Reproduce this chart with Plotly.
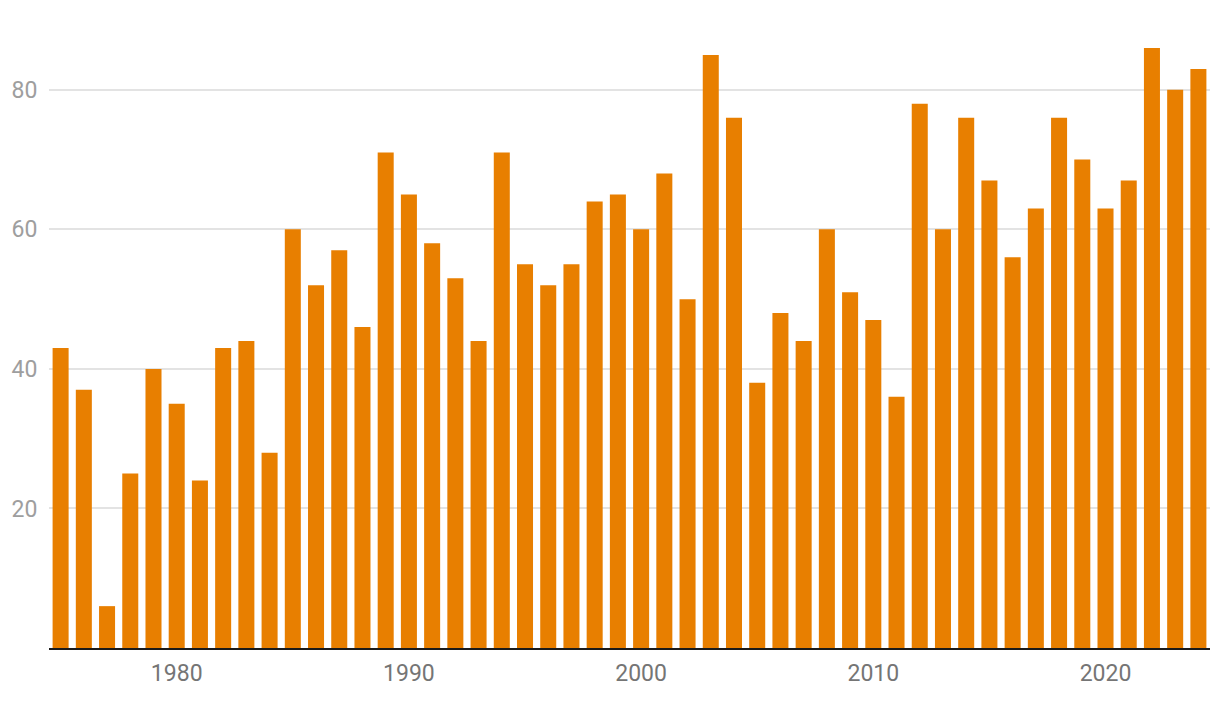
import plotly.graph_objects as go

years = list(range(1975, 2025))
values = [
    43, 37, 6, 25, 40, 35, 24, 43, 44, 28,
    60, 52, 57, 46, 71, 65, 58, 53, 44, 71,
    55, 52, 55, 64, 65, 60, 68, 50, 85, 76,
    38, 48, 44, 60, 51, 47, 36, 78, 60, 76,
    67, 56, 63, 76, 70, 63, 67, 86, 80, 83,
]
y_ticks = [20, 40, 60, 80]
x_ticks = [1980, 1990, 2000, 2010, 2020]

fig = go.Figure()

fig.add_trace(
    go.Bar(
        x=years,
        y=values,
        marker=dict(color="#E87F00", line=dict(width=0)),
        hoverinfo="x+y",
    )
)

# page body has an 8px margin, so the figure is sized to fit inside it
fig.update_layout(
    width=1204,
    height=688,
    margin=dict(l=41, r=2, t=26, b=48),
    plot_bgcolor="white",
    paper_bgcolor="white",
    bargap=0.31,
    showlegend=False,
    font=dict(family="Roboto", size=23),
)

fig.update_xaxes(
    range=[1974.5, 2024.5],
    tickvals=x_ticks,
    ticktext=[str(t) for t in x_ticks],
    showgrid=False,
    zeroline=False,
    showline=True,
    linecolor="#1a1a1a",
    linewidth=2,
    ticks="outside",
    ticklen=3,
    tickcolor="rgba(0,0,0,0)",
    tickfont=dict(color="#757575", size=23),
    automargin=False,
)

fig.update_yaxes(
    range=[0, 88],
    tickvals=y_ticks,
    showgrid=True,
    gridcolor="#e3e3e3",
    gridwidth=2,
    zeroline=False,
    showline=False,
    ticks="outside",
    ticklen=6,
    tickcolor="rgba(0,0,0,0)",
    tickfont=dict(color="#9e9e9e", size=23),
    automargin=False,
)

fig.write_html("out.html")
